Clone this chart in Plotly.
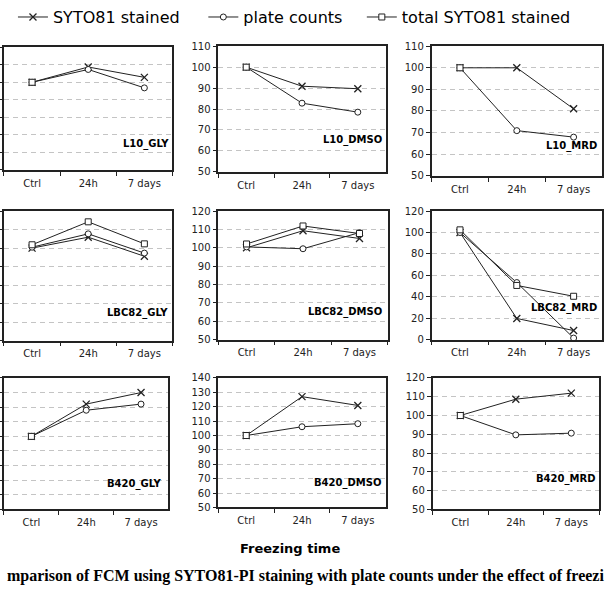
import plotly.graph_objects as go

# ---------------- data ----------------
categories = ["Ctrl", "24h", "7 days"]
panel_names = ["L10_GLY", "L10_DMSO", "L10_MRD",
               "LBC82_GLY", "LBC82_DMSO", "LBC82_MRD",
               "B420_GLY", "B420_DMSO", "B420_MRD"]

syto81_stained = [
    [100, 108.7, 102.8],
    [100, 90.9, 89.7],
    [100, 100.0, 81.0],
    [100, 105.9, 95.6],
    [100, 109.3, 105.1],
    [100, 19.8, 8.5],
    [100, 122.1, 130.0],
    [100, 127.0, 120.9],
    [100, 108.7, 111.9],
]
plate_counts = [
    [100, 107.3, 96.8],
    [100, 82.8, 78.5],
    [100, 70.9, 67.9],
    [100.5, 107.7, 97.3],
    [100.5, 99.5, 108.3],
    [100, 53.3, 1.5],
    [100, 117.9, 122.1],
    [100, 106.1, 108.2],
    [100, 89.7, 90.6],
]
total_syto81_stained = [
    [100, None, None],
    [100, None, None],
    [100, None, None],
    [101.8, 114.2, 102.3],
    [102.1, 111.9, 107.8],
    [102.5, 50.6, 40.5],
    [100, None, None],
    [100, None, None],
    [100, None, None],
]
y_ranges = [(50, 120), (50, 110), (50, 110),
            (50, 120), (50, 120), (0, 120),
            (50, 140), (50, 140), (50, 120)]
y_dticks = [10, 10, 10, 10, 10, 20, 10, 10, 10]

x_title = "Freezing time"
caption = "mparison of FCM using SYTO81-PI staining with plate counts under the effect of freezi"

# ---------------- layout helpers ----------------
W, H = 609, 592
# plot-area frames in pixels: (left, right, top, bottom)
frames = [(2, 171, 43, 168), (217, 385, 42, 170), (431, 602, 42, 174),
          (2, 171, 210, 342), (217, 387, 210, 341), (431, 602, 210, 341),
          (2, 167, 380, 514), (217, 385, 380, 512), (432, 599, 380, 514)]
label_pos = [(170, 142), (383, 138), (599, 144),
             (169, 314), (383, 313), (599, 309),
             (163, 488), (382, 487), (597, 483)]

LINE = "#222222"
TICKFONT = dict(family="DejaVu Sans", size=10, color="#222222")

fig = go.Figure()

series = [
    ("SYTO81 stained", syto81_stained,
     dict(symbol="x-thin", size=7, color=LINE, line=dict(color=LINE, width=1.3)), "legend"),
    ("plate counts", plate_counts,
     dict(symbol="circle", size=6, color="white", line=dict(color=LINE, width=1)), "legend2"),
    ("total SYTO81 stained", total_syto81_stained,
     dict(symbol="square", size=6, color="white", line=dict(color=LINE, width=1)), "legend3"),
]

annotations = []
for i in range(9):
    sfx = "" if i == 0 else str(i + 1)
    for name, vals, marker, lg in series:
        fig.add_trace(go.Scatter(
            x=categories, y=vals[i], name=name, mode="lines+markers",
            line=dict(color=LINE, width=1), marker=marker,
            xaxis="x" + sfx, yaxis="y" + sfx,
            showlegend=(i == 0), legend=lg, cliponaxis=False,
        ))
    l, r, t, b = frames[i]
    left_col = (i % 3 == 0)
    fig.layout["xaxis" + sfx] = dict(
        domain=[l / W, r / W], anchor="y" + sfx, type="category",
        categoryorder="array", categoryarray=categories,
        range=[-0.5, len(categories) - 0.5], autorange=False,
        showline=True, mirror=True, linecolor=LINE, linewidth=1.5,
        ticks="outside", tickson="boundaries", ticklen=4, tickcolor=LINE,
        tickfont=dict(family="DejaVu Sans", size=10, color="#222222"),
        ticklabelstandoff=3,
        showgrid=False, zeroline=False,
    )
    y0, y1 = y_ranges[i]
    fig.layout["yaxis" + sfx] = dict(
        domain=[1 - b / H, 1 - t / H], anchor="x" + sfx,
        range=[y0, y1], dtick=y_dticks[i], tick0=0,
        showline=True, mirror=True, linecolor=LINE, linewidth=1.5,
        ticks="outside", ticklen=4, tickcolor=LINE,
        showticklabels=not left_col, tickfont=TICKFONT,
        showgrid=True, gridcolor="#c4c4c4", griddash="5px,4px", gridwidth=1,
        zeroline=False,
    )
    lx, ly = label_pos[i]
    annotations.append(dict(
        text="<b>%s</b>" % panel_names[i], x=lx / W, y=1 - ly / H,
        xref="paper", yref="paper", xanchor="right", yanchor="middle",
        showarrow=False, font=dict(family="DejaVu Sans", size=10, color="black"),
    ))

annotations.append(dict(
    text="<b>%s</b>" % x_title, x=289 / W, y=1 - 554 / H, xref="paper", yref="paper",
    xanchor="center", yanchor="middle", showarrow=False,
    font=dict(family="DejaVu Sans", size=13, color="black"),
))
annotations.append(dict(
    text="<b>%s</b>" % caption, x=304.5 / W, y=1 - 582 / H, xref="paper", yref="paper",
    xanchor="center", yanchor="middle", showarrow=False,
    font=dict(family="Liberation Serif", size=16, color="black"),
))

legend_common = dict(orientation="h", yanchor="top", y=1.0 + 5 / H, xanchor="left",
                     bgcolor="rgba(0,0,0,0)", borderwidth=0,
                     font=dict(family="DejaVu Sans", size=16, color="black"))
fig.update_layout(
    width=W, height=H, margin=dict(l=0, r=0, t=0, b=0),
    paper_bgcolor="white", plot_bgcolor="white",
    annotations=annotations,
    legend=dict(x=11 / W, **legend_common),
    legend2=dict(x=202 / W, **legend_common),
    legend3=dict(x=361 / W, **legend_common),
)

fig.write_html("out.html")
